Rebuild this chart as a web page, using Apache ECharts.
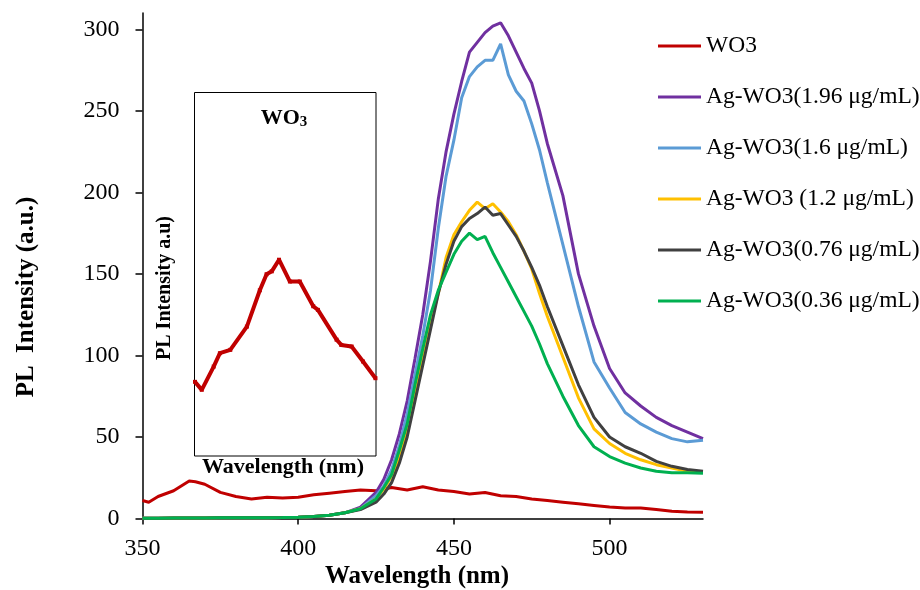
<!DOCTYPE html>
<html>
<head>
<meta charset="utf-8">
<title>PL Intensity</title>
<script src="https://cdn.jsdelivr.net/npm/echarts@6/dist/echarts.min.js"></script>
<style>
  html, body { margin: 0; padding: 0; background: #fff; }
  #chart { width: 920px; height: 590px; }
</style>
</head>
<body>
<div id="chart"></div>
<script>
// 主图数据
const wo3Wavelength = [350, 352, 355, 360, 365, 367, 370, 375, 380, 385, 390, 395, 400, 405, 410, 415, 420, 425, 430, 435, 440, 445,
  450, 455, 460, 465, 470, 475, 480, 485, 490, 495, 500, 505, 510, 515, 520, 525, 530]
const wo3Intensity = [11, 10, 13.5, 17, 23, 22.5, 21, 16, 13.5, 12, 13, 12.5, 13, 14.5, 15.5, 16.5, 17.5, 17, 19, 17.5, 19.5, 17.5,
  16.5, 15, 16, 14, 13.5, 12, 11, 10, 9, 8, 7, 6.5, 6.5, 5.5, 4.5, 4, 3.8]

const agWavelength = [350, 355, 360, 365, 370, 375, 380, 385, 390, 395, 400, 405, 410, 415, 420,
  425, 427.5, 430, 432.5, 435, 437.5, 440, 442.5, 445, 447.5, 450, 452.5, 455, 457.5, 460, 462.5, 465, 467.5, 470, 472.5, 475, 477.5, 480,
  485, 490, 495, 500, 505, 510, 515, 520, 525, 530]
const ag196 = [0.2, 0.2, 0.3, 0.3, 0.3, 0.4, 0.4, 0.5, 0.5, 0.6, 0.8, 1.2, 2, 3.5, 7,
  16, 24, 36, 52, 72, 98, 125, 158, 196, 225, 248, 268, 286, 292, 298, 302, 304, 296, 286, 276, 267, 250, 230,
  198, 150, 118, 92, 77, 69, 62, 57, 53, 49]
const ag16 = [0.2, 0.2, 0.3, 0.3, 0.3, 0.4, 0.4, 0.5, 0.5, 0.6, 0.8, 1.2, 2, 3.5, 6,
  14, 20, 30, 45, 64, 88, 112, 140, 178, 210, 232, 258, 271, 277, 281, 281, 291, 272, 262, 256, 242, 226, 206,
  168, 130, 96, 80, 65, 58, 53, 49, 47, 48]
const ag12 = [0.2, 0.2, 0.3, 0.3, 0.3, 0.4, 0.4, 0.5, 0.5, 0.6, 0.8, 1.2, 2, 3.5, 6,
  12, 18, 26, 37, 54, 77, 100, 120, 138, 160, 174, 182, 189, 194, 190, 193, 188, 182, 174, 164, 153, 138, 124,
  99, 74, 55, 46, 40, 36, 33, 31, 29, 28.5]
const ag076 = [0.2, 0.2, 0.3, 0.3, 0.3, 0.4, 0.4, 0.5, 0.5, 0.6, 0.8, 1.2, 2, 3.5, 5.5,
  10, 15, 22, 34, 50, 72, 94, 116, 138, 156, 170, 179, 184, 187, 191, 186, 187, 180, 173, 164, 154, 143, 130,
  106, 82, 62, 50, 44, 40, 35, 32, 30, 29]
const ag036 = [0.2, 0.2, 0.3, 0.3, 0.3, 0.4, 0.4, 0.5, 0.5, 0.6, 0.8, 1.2, 2, 3.5, 6,
  12, 19, 27, 42, 58, 82, 104, 125, 140, 151, 162, 170, 175, 171, 173, 163, 154, 145, 136, 127, 118, 107, 95,
  75, 57, 44, 38, 34, 31, 29, 28, 28, 27.7]

const xTicks = [350, 400, 450, 500]
const yTicks = [0, 50, 100, 150, 200, 250, 300]

// 插图数据 (WO3)
const insetWavelength = [350.1, 351.4, 353.7, 354.9, 356.9, 360.1, 362.6, 363.9, 364.9, 366.3, 368.4, 370.3, 372.9, 373.8,
  377.4, 378.3, 380.3, 382.5, 384.9]
const insetIntensity = [51, 45.5, 61.5, 70.7, 73, 89, 114, 125, 127, 135, 120, 120, 103, 100.5, 80, 76.4, 75.3, 65, 53.5]

const seriesNames = ['WO3', 'Ag-WO3(1.96 μg/mL)', 'Ag-WO3(1.6 μg/mL)', 'Ag-WO3 (1.2 μg/mL)', 'Ag-WO3(0.76 μg/mL)', 'Ag-WO3(0.36 μg/mL)']
const seriesColors = ['#C00000', '#7030A0', '#5B9BD5', '#FFC000', '#404040', '#00B050']

const zip = (xs, ys) => xs.map((x, i) => [x, ys[i]])
const seriesData = [
  zip(wo3Wavelength, wo3Intensity),
  zip(agWavelength, ag196),
  zip(agWavelength, ag16),
  zip(agWavelength, ag12),
  zip(agWavelength, ag076),
  zip(agWavelength, ag036)
]

const font = "'Liberation Serif', 'Times New Roman', serif"

const chart = echarts.init(document.getElementById('chart'))

const lineSeries = seriesNames.map((name, i) => ({
  name: name,
  type: 'line',
  xAxisIndex: 0,
  yAxisIndex: 0,
  data: seriesData[i],
  symbol: 'none',
  color: seriesColors[i],
  lineStyle: { color: seriesColors[i], width: 3 }
}))

chart.setOption({
  animation: false,
  textStyle: { fontFamily: font },
  grid: [
    { left: 142.5, right: 217, top: 13, bottom: 71.5 },
    // 插图
    { left: 194.5, top: 92.5, width: 181.5, height: 363.5, show: true, borderColor: '#000', borderWidth: 1, backgroundColor: '#fff', z: 1 }
  ],
  legend: {
    orient: 'vertical',
    left: 653,
    top: 28,
    icon: 'rect',
    itemWidth: 43,
    itemHeight: 3,
    itemGap: 25,
    data: seriesNames,
    textStyle: { fontFamily: font, fontSize: 23.5, color: '#000', lineHeight: 26 }
  },
  xAxis: [
    {
      type: 'value',
      gridIndex: 0,
      min: 350,
      max: 530,
      axisLine: { lineStyle: { color: '#000', width: 1.5 } },
      axisTick: { inside: false, length: 6, customValues: xTicks, lineStyle: { color: '#000', width: 1.5 } },
      axisLabel: { customValues: xTicks, fontSize: 24, color: '#000', margin: 18, fontFamily: font },
      splitLine: { show: false }
    },
    { type: 'value', gridIndex: 1, min: 350, max: 385, show: false }
  ],
  yAxis: [
    {
      type: 'value',
      gridIndex: 0,
      min: 0,
      max: 310,
      axisLine: { show: true, lineStyle: { color: '#000', width: 1.5 } },
      axisTick: { show: true, length: 7, customValues: yTicks, lineStyle: { color: '#000', width: 1.5 } },
      axisLabel: { customValues: yTicks, fontSize: 24, color: '#000', margin: 23, fontFamily: font },
      splitLine: { show: false }
    },
    { type: 'value', gridIndex: 1, min: 0, max: 250, show: false }
  ],
  graphic: [
    {
      type: 'text',
      x: 27, y: 297, rotation: Math.PI / 2,
      style: { text: 'PL  Intensity (a.u.)', font: 'bold 25px ' + font, fill: '#000', align: 'center', verticalAlign: 'middle' }
    },
    {
      type: 'text',
      x: 417, y: 577,
      style: { text: 'Wavelength (nm)', font: 'bold 25px ' + font, fill: '#000', align: 'center', verticalAlign: 'middle' }
    },
    // 插图文字
    {
      type: 'text',
      x: 284, y: 118, z: 10,
      style: {
        text: '{a|WO}{b|3}',
        align: 'center', verticalAlign: 'middle',
        rich: {
          a: { fontFamily: font, fontWeight: 'bold', fontSize: 22, fill: '#000' },
          b: { fontFamily: font, fontWeight: 'bold', fontSize: 15, fill: '#000', verticalAlign: 'bottom', padding: [9, 0, 0, 0] }
        }
      }
    },
    {
      type: 'text',
      x: 165, y: 288, rotation: Math.PI / 2, z: 10,
      style: { text: 'PL Intensity a.u)', font: 'bold 20px ' + font, fill: '#000', align: 'center', verticalAlign: 'middle' }
    },
    {
      type: 'text',
      x: 283, y: 467, z: 10,
      style: { text: 'Wavelength (nm)', font: 'bold 22px ' + font, fill: '#000', align: 'center', verticalAlign: 'middle' }
    }
  ],
  series: lineSeries.concat([
    {
      name: 'inset',
      type: 'line',
      xAxisIndex: 1,
      yAxisIndex: 1,
      data: zip(insetWavelength, insetIntensity),
      symbol: 'rect',
      symbolSize: 4,
      showSymbol: true,
      color: '#C00000',
      itemStyle: { color: '#C00000' },
      lineStyle: { color: '#C00000', width: 4 },
      z: 5
    }
  ])
})

window.addEventListener('resize', () => {
  chart.resize()
})
</script>
</body>
</html>
